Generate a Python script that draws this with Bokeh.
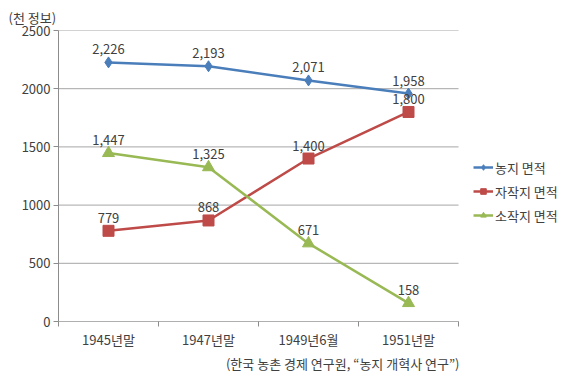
from bokeh.plotting import figure
from bokeh.models import (ColumnDataSource, FixedTicker, Legend, LegendItem, Title,
                          Range1d, LabelSet)
from bokeh.core.properties import value
from bokeh.embed import file_html
from bokeh.resources import INLINE

categories = ["1945년말", "1947년말", "1949년6월", "1951년말"]
farmland = [2226, 2193, 2071, 1958]
owner_farmland = [779, 868, 1400, 1800]
tenant_farmland = [1447, 1325, 671, 158]
series_names = ["농지 면적", "자작지 면적", "소작지 면적"]
y_ticks = [0, 500, 1000, 1500, 2000, 2500]

FONT = "Noto Sans CJK KR"
TXT = "#404040"
GRID = "#a6a6a6"
AXIS = "#8c8c8c"
colors = ["#4a7ebb", "#be4b48", "#98b954"]

n = len(categories)
xs = [i + 0.5 for i in range(n)]

# frame spans the legend area too (legend sits right of the category axis)
p = figure(width=580, height=381, output_backend="svg", toolbar_location=None,
           x_range=Range1d(0, 5.14), y_range=Range1d(0, 2500),
           min_border_left=58, min_border_right=8, min_border_top=30,
           min_border_bottom=60)
p.outline_line_color = None
p.background_fill_color = "white"
p.border_fill_color = "white"

# horizontal gridlines only across the category area
p.xgrid.grid_line_color = None
p.ygrid.grid_line_color = None
p.segment(x0=[0] * len(y_ticks), x1=[n] * len(y_ticks), y0=y_ticks, y1=y_ticks,
          line_color=GRID, line_width=1)

# axes
p.xaxis.ticker = FixedTicker(ticks=xs, minor_ticks=list(range(n + 1)))
p.xaxis.major_label_overrides = {x: c for x, c in zip(xs, categories)}
p.xaxis.major_tick_line_color = None
p.xaxis.major_tick_out = 0
p.xaxis.major_tick_in = 0
p.xaxis.minor_tick_line_color = AXIS
p.xaxis.minor_tick_out = 5
p.xaxis.minor_tick_in = 0
p.xaxis.axis_line_color = None
p.xaxis.major_label_standoff = 3
p.xaxis.major_label_text_font = FONT
p.xaxis.major_label_text_font_size = "13px"
p.xaxis.major_label_text_color = TXT

p.yaxis.ticker = FixedTicker(ticks=y_ticks)
p.yaxis.major_tick_out = 5
p.yaxis.major_tick_in = 0
p.yaxis.minor_tick_line_color = None
p.yaxis.major_tick_line_color = AXIS
p.yaxis.axis_line_color = AXIS
p.yaxis.major_label_standoff = 3
p.yaxis.major_label_text_font = FONT
p.yaxis.major_label_text_font_size = "13px"
p.yaxis.major_label_text_color = TXT

p.segment(x0=[0], x1=[n], y0=[0], y1=[0], line_color=AXIS, line_width=1)

markers = ["diamond", "square", "triangle"]
msizes = [11, 11, 12]
all_vals = [farmland, owner_farmland, tenant_farmland]
items = []
for name, vals, c, m, s in zip(series_names, all_vals, colors, markers, msizes):
    src = ColumnDataSource(dict(x=xs, y=vals, lab=[f"{v:,}" for v in vals]))
    r1 = p.line("x", "y", source=src, line_color=c, line_width=2.5)
    r2 = p.scatter("x", "y", source=src, marker=m, size=s, fill_color=c, line_color=c)
    labels = LabelSet(x="x", y="y", text="lab", source=src, text_align="center",
                      text_baseline="middle", y_offset=13, text_font=value(FONT),
                      text_font_size=value("13px"), text_color=TXT)
    p.add_layout(labels)
    items.append(LegendItem(label=name, renderers=[r1, r2]))

legend = Legend(items=items, location=(415, 96), border_line_color=None,
                background_fill_alpha=0, label_text_font=FONT,
                label_text_font_size="13px", label_text_color=TXT,
                glyph_width=20, glyph_height=14, label_standoff=2,
                spacing=4, padding=5, margin=0, label_height=20)
p.add_layout(legend)

p.add_layout(Title(text="(한국 농촌 경제 연구원, “농지 개혁사 연구”)", align="right",
                   offset=113, text_font=FONT, text_font_size="13px",
                   text_font_style="normal", text_color=TXT, standoff=0), "below")
p.add_layout(Title(text="(천 정보)", align="left", offset=-50,
                   text_font=FONT, text_font_size="13px", text_font_style="normal",
                   text_color=TXT, standoff=7), "above")

open("out.html", "w").write(file_html(p, INLINE))
